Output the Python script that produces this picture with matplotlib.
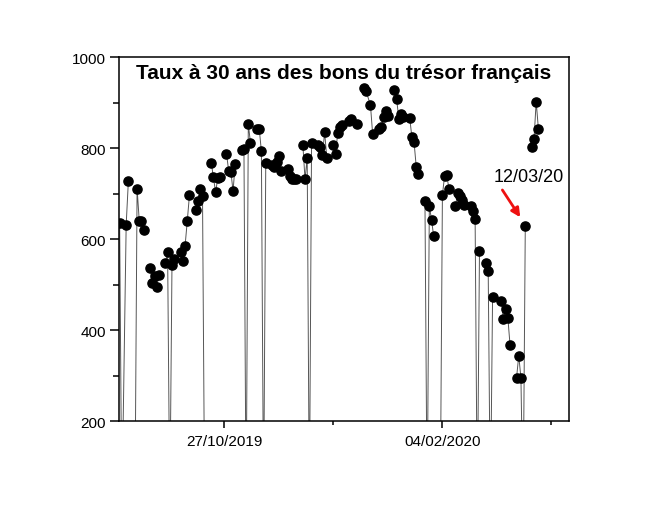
import matplotlib

matplotlib.use("Agg")

import matplotlib.pyplot as plt
import matplotlib.dates as mdates
import numpy as np
import pandas as pd

plt.rcParams["font.family"] = ["Liberation Sans", "DejaVu Sans"]

# valeurs (0 = jour sans cotation)
DATES = [
    "2019-09-09", "2019-09-10", "2019-09-12", "2019-09-13", "2019-09-16",
    "2019-09-17", "2019-09-18", "2019-09-19", "2019-09-20", "2019-09-23",
    "2019-09-24", "2019-09-25", "2019-09-26", "2019-09-27", "2019-09-30",
    "2019-10-01", "2019-10-02", "2019-10-03", "2019-10-04", "2019-10-07",
    "2019-10-08", "2019-10-09", "2019-10-10", "2019-10-11", "2019-10-14",
    "2019-10-15", "2019-10-16", "2019-10-17", "2019-10-18", "2019-10-21",
    "2019-10-22", "2019-10-23", "2019-10-24", "2019-10-25", "2019-10-28",
    "2019-10-29", "2019-10-30", "2019-10-31", "2019-11-01", "2019-11-04",
    "2019-11-05", "2019-11-06", "2019-11-07", "2019-11-08", "2019-11-11",
    "2019-11-12", "2019-11-13", "2019-11-14", "2019-11-15", "2019-11-18",
    "2019-11-19", "2019-11-20", "2019-11-21", "2019-11-22", "2019-11-25",
    "2019-11-26", "2019-11-27", "2019-11-28", "2019-11-29", "2019-12-02",
    "2019-12-03", "2019-12-04", "2019-12-05", "2019-12-06", "2019-12-09",
    "2019-12-10", "2019-12-11", "2019-12-12", "2019-12-13", "2019-12-16",
    "2019-12-17", "2019-12-18", "2019-12-19", "2019-12-20", "2019-12-23",
    "2019-12-24", "2019-12-27", "2019-12-30", "2019-12-31", "2020-01-02",
    "2020-01-03", "2020-01-06", "2020-01-07", "2020-01-08", "2020-01-09",
    "2020-01-10", "2020-01-13", "2020-01-14", "2020-01-15", "2020-01-16",
    "2020-01-17", "2020-01-20", "2020-01-21", "2020-01-22", "2020-01-23",
    "2020-01-24", "2020-01-27", "2020-01-28", "2020-01-29", "2020-01-30",
    "2020-01-31", "2020-02-03", "2020-02-04", "2020-02-05", "2020-02-06",
    "2020-02-07", "2020-02-10", "2020-02-11", "2020-02-12", "2020-02-13",
    "2020-02-14", "2020-02-17", "2020-02-18", "2020-02-19", "2020-02-20",
    "2020-02-21", "2020-02-24", "2020-02-25", "2020-02-26", "2020-02-27",
    "2020-03-02", "2020-03-03", "2020-03-04", "2020-03-05", "2020-03-06",
    "2020-03-09", "2020-03-10", "2020-03-11", "2020-03-12", "2020-03-13",
    "2020-03-16", "2020-03-17", "2020-03-18", "2020-03-19",
]
TAUX = [
    635, 0, 632, 727, 0,
    711, 640, 640, 621, 537,
    503, 519, 494, 522, 548,
    571, 0, 543, 557, 571,
    552, 585, 639, 696, 663,
    684, 711, 695, 0, 768,
    736, 703, 734, 736, 788,
    750, 748, 706, 765, 795,
    799, 0, 853, 811, 843,
    843, 793, 0, 768, 763,
    759, 770, 782, 749, 754,
    739, 732, 732, 733, 808,
    732, 778, 0, 812, 807,
    802, 786, 835, 778, 808,
    788, 833, 847, 851, 859,
    865, 854, 933, 925, 895,
    832, 842, 846, 869, 881,
    871, 928, 908, 865, 875,
    868, 867, 824, 813, 759,
    744, 683, 0, 673, 643,
    606, 0, 697, 739, 741,
    710, 673, 701, 695, 685,
    675, 673, 662, 644, 0,
    574, 547, 529, 0, 472,
    463, 424, 446, 427, 368,
    295, 344, 295, 0, 628,
    802, 820, 902, 843,
]

TITRE = "Taux à 30 ans des bons du trésor français"
Y_TICKS = [200, 400, 600, 800, 1000]
X_TICKS = ["2019-10-27", "2020-02-04"]
X_MINOR = ["2019-12-16", "2020-03-25"]
POINT_ANNOTE = "2020-03-13"
TEXTE_ANNOTE = "12/03/20"


def main():
    df = pd.DataFrame({"date": pd.to_datetime(DATES), "taux": TAUX})
    df["semaine"] = df["date"].dt.to_period("W")

    fig = plt.figure(figsize=(6.61, 5.06), dpi=100)
    ax = fig.add_axes([0.180, 0.166, 0.681, 0.719])

    # les points d'une même semaine sont reliés, pas d'un vendredi au lundi
    for _, grp in df.groupby("semaine"):
        ax.plot(grp["date"], grp["taux"], color="#555555", linewidth=0.7,
                zorder=2)
    ax.plot(df["date"], df["taux"], linestyle="none", marker="o",
            markersize=6.6, color="black", zorder=3)

    ref = mdates.date2num(pd.Timestamp("2019-10-27"))
    ax.set_xlim(ref - 48.3, ref + 158.1)
    ax.set_ylim(200, 1000)

    ax.set_xticks(pd.to_datetime(X_TICKS))
    ax.set_xticklabels([pd.Timestamp(d).strftime("%d/%m/%Y") for d in X_TICKS])
    ax.set_xticks(pd.to_datetime(X_MINOR), minor=True)
    ax.set_yticks(Y_TICKS)
    ax.set_yticks([300, 500, 700, 900], minor=True)

    for side in ax.spines.values():
        side.set_linewidth(1.1)
    ax.tick_params(axis="both", which="both", direction="out", width=1.1,
                   labelsize=11, color="black")
    ax.tick_params(axis="y", which="major", length=6.5, pad=3)
    ax.tick_params(axis="y", which="minor", length=4)
    ax.tick_params(axis="x", which="major", length=5, pad=4)
    ax.tick_params(axis="x", which="minor", length=3)

    ax.text(0.5, 0.958, TITRE, transform=ax.transAxes, ha="center", va="center",
            fontsize=15, fontweight="bold")

    x_pt = mdates.date2num(pd.Timestamp(POINT_ANNOTE))
    y_pt = df.loc[df["date"] == pd.Timestamp(POINT_ANNOTE), "taux"].iloc[0]
    ax.annotate("", xy=(x_pt - 2.3, y_pt + 20), xytext=(x_pt - 10.5, y_pt + 80),
                arrowprops=dict(arrowstyle="-|>", color="#ee1111", lw=2,
                                mutation_scale=13, shrinkA=0, shrinkB=0))
    ax.text(x_pt + 1.4, y_pt + 110, TEXTE_ANNOTE, ha="center", va="center",
            fontsize=13)

    fig.savefig("out.png", dpi=100)


if __name__ == "__main__":
    main()
